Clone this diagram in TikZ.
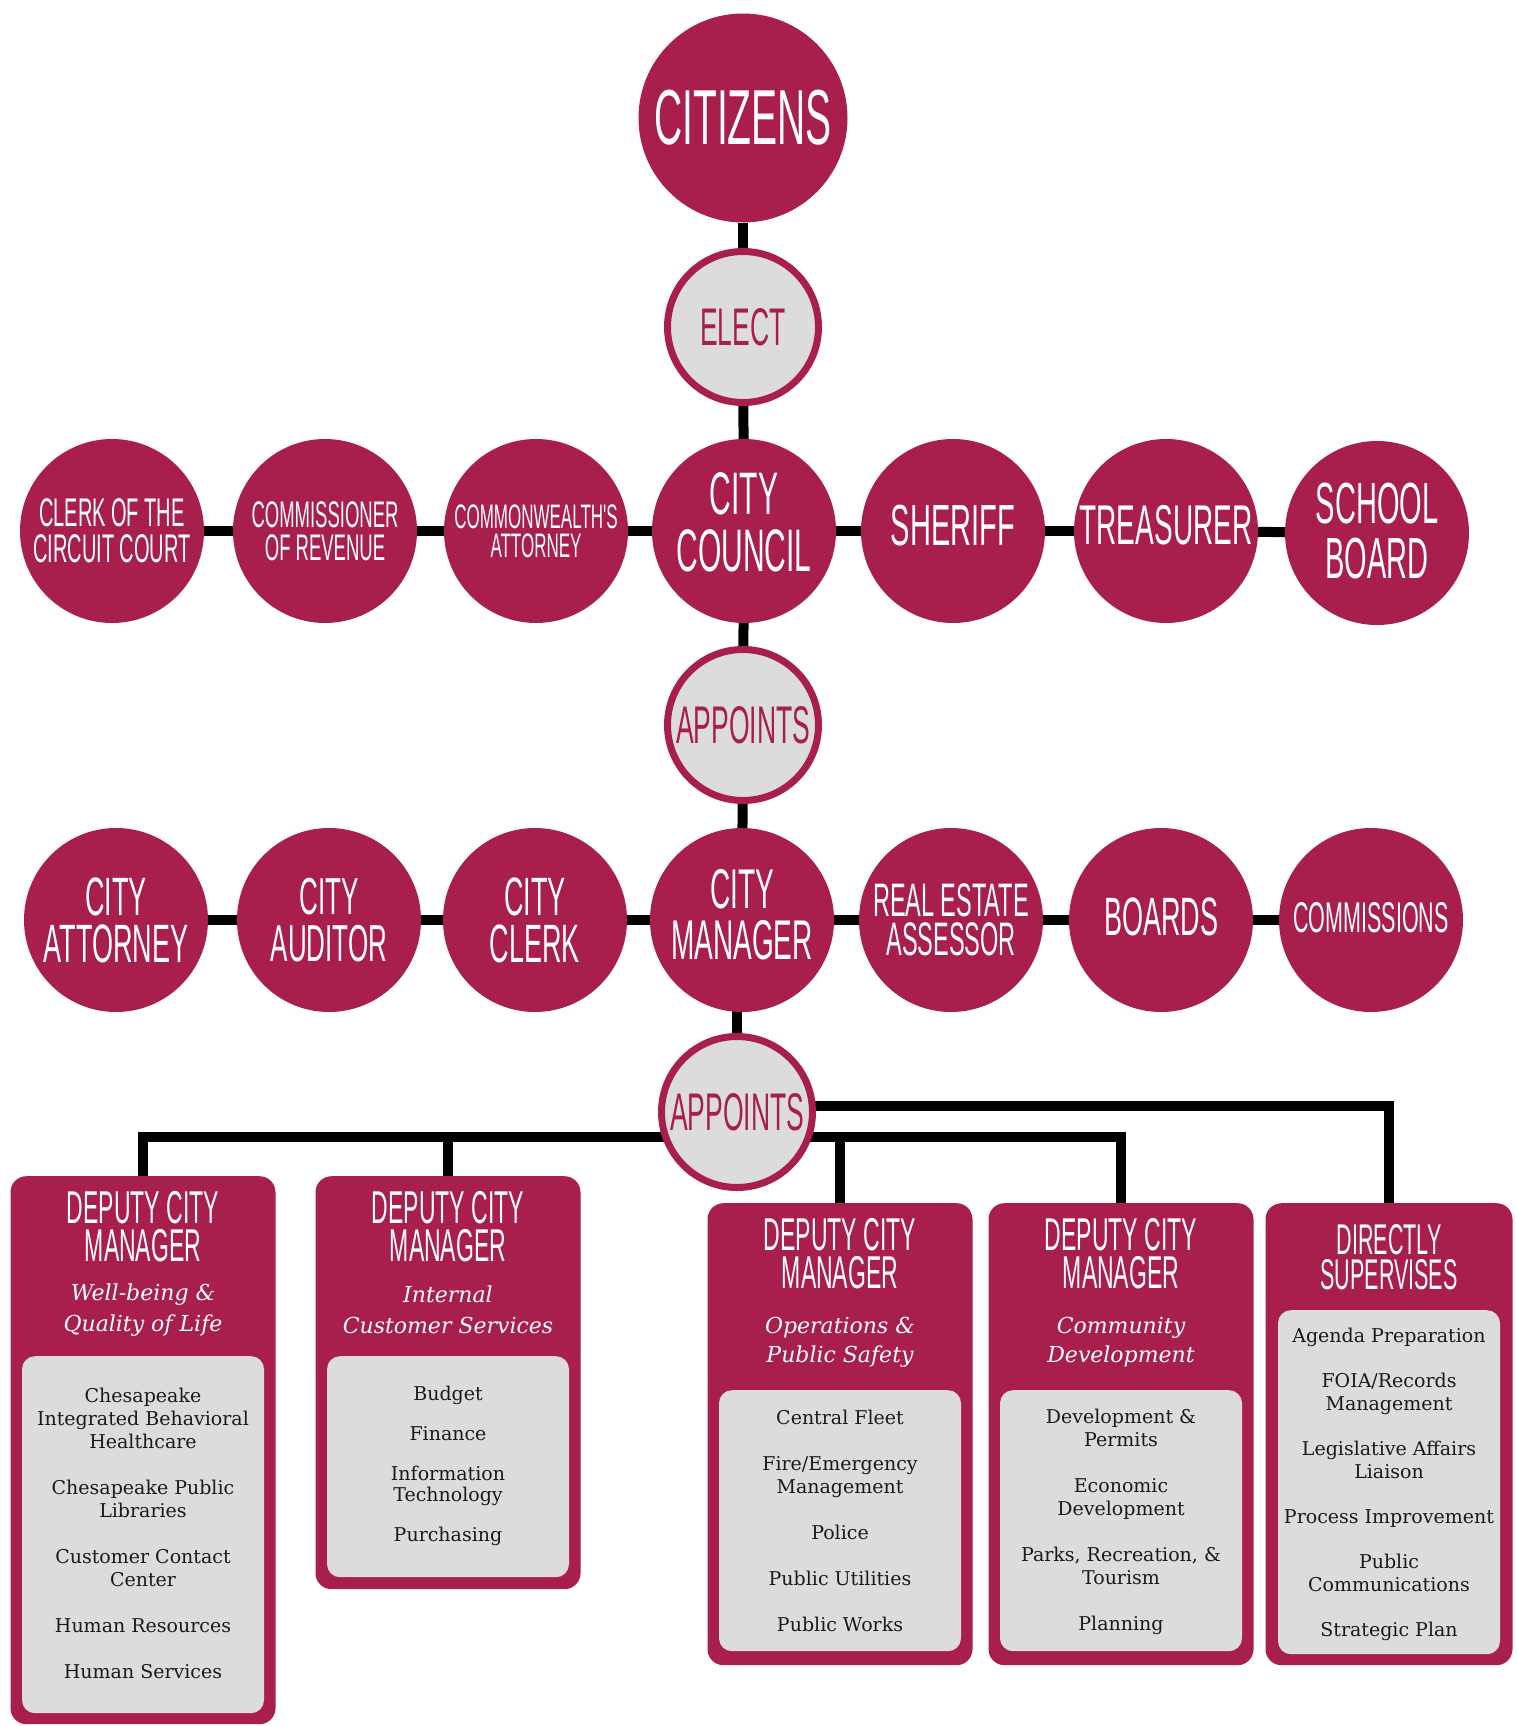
\documentclass[tikz,border=0pt]{standalone}
\usepackage{fontspec}
\setmainfont{DejaVu Serif}
\newfontfamily\headfont{Liberation Sans}[FakeStretch=0.5]
\usetikzlibrary{backgrounds}
\definecolor{cityred}{HTML}{A81E4C}
\definecolor{citygray}{HTML}{DCDCDC}
\definecolor{itemtext}{HTML}{1A1A1A}
\newcommand{\headsz}[2]{\headfont\fontsize{#1}{#2}\selectfont}
\newcommand{\itemsz}{\fontsize{19}{23}\selectfont}

\begin{document}
\begin{tikzpicture}[x=1pt, y=-1pt,
    bigdot/.style={circle, fill=cityred, text=white, inner sep=0pt, minimum size=184pt, align=center},
    verb/.style={circle, fill=citygray, draw=cityred, line width=7pt, inner sep=0pt, minimum size=151pt, text=cityred, font={\headsz{53}{53}}},
    link/.style={line width=10pt, black},
    panel/.style={anchor=north, fill=cityred, rounded corners=16pt, inner sep=0pt, minimum width=265pt},
    sheet/.style={anchor=north, fill=citygray, rounded corners=13pt, inner sep=0pt, minimum width=242pt},
    boxhead/.style={text=white, align=center, inner sep=0pt, font={\headsz{46}{38}}},
    boxsub/.style={text=white, align=center, inner sep=0pt, font={\fontsize{22}{31}\selectfont\itshape}},
    items/.style={text=itemtext, align=center, inner sep=0pt, font=\itemsz}]
  \useasboundingbox (0,0) rectangle (1517,1726);

  % 1. 顶部: 选民与选举
  \node[bigdot, minimum size=209pt, font={\headsz{78}{78}}] (citizens) at (743,118) {CITIZENS};
  \node[verb] (elect) at (743,327) {ELECT};

  % 2. 第一排: 民选官员
  \node[bigdot, font={\headsz{40}{36}}] (clerk) at (112,531) {CLERK OF THE\\CIRCUIT COURT};
  \node[bigdot, font={\headsz{37}{33}}] (revenue) at (325,531) {COMMISSIONER\\OF REVENUE};
  \node[bigdot, font={\headsz{34}{29}}] (cwattorney) at (536,531) {COMMONWEALTH'S\\ATTORNEY};
  \node[bigdot, font={\headsz{60}{57}}, text depth=18pt] (council) at (744,531) {CITY\\COUNCIL};
  \node[bigdot, font={\headsz{58}{58}}, text depth=12pt] (sheriff) at (953,531) {SHERIFF};
  \node[bigdot, font={\headsz{56}{56}}, text depth=12pt] (treasurer) at (1166,531) {TREASURER};
  \node[bigdot, font={\headsz{58}{55}}, text depth=5pt] (school) at (1377,533) {SCHOOL\\BOARD};

  \node[verb] (appoints) at (743,725) {APPOINTS};

  % 3. 第二排: 议会任命
  \node[bigdot, font={\headsz{54}{47}}] (attorney) at (116,920) {CITY\\ATTORNEY};
  \node[bigdot, font={\headsz{52}{47}}] (auditor) at (329,920) {CITY\\AUDITOR};
  \node[bigdot, font={\headsz{54}{47}}] (cityclerk) at (535,920) {CITY\\CLERK};
  \node[bigdot, font={\headsz{56}{51}}, text depth=11pt] (manager) at (742,920) {CITY\\MANAGER};
  \node[bigdot, font={\headsz{47}{39}}] (assessor) at (951,920) {REAL ESTATE\\ASSESSOR};
  \node[bigdot, font={\headsz{54}{54}}, text depth=6pt] (boards) at (1161,920) {BOARDS};
  \node[bigdot, font={\headsz{43}{43}}, text depth=6pt] (commissions) at (1371,920) {COMMISSIONS};

  \node[verb] (appointsb) at (737,1112) {APPOINTS};

  % 4. 底部: 副市政经理与直属部门
  \node[panel, minimum height=548pt] (wellbeing) at (143,1176) {};
  \node[sheet, minimum height=357pt] (wellbeingsheet) at (143,1356) {};
  \node[boxhead] (wellbeinghead) at (143,1227) {DEPUTY CITY\\MANAGER};
  \node[boxsub] (wellbeingsub) at (143,1310) {Well-being \&\\Quality of Life};
  \node[items] (wellbeingitems) at (143,1533) {Chesapeake\\Integrated Behavioral\\Healthcare\\[23pt]
    Chesapeake Public\\Libraries\\[23pt]Customer Contact\\Center\\[23pt]
    Human Resources\\[23pt]Human Services};

  \node[panel, minimum height=413pt] (internal) at (448,1176) {};
  \node[sheet, minimum height=221pt] (internalsheet) at (448,1356) {};
  \node[boxhead] (internalhead) at (448,1227) {DEPUTY CITY\\MANAGER};
  \node[boxsub] (internalsub) at (448,1310) {Internal\\Customer Services};
  \node[items] (internalitems) at (448,1466) {Budget\\[17pt]Finance\\[17pt]
    Information\\[-2pt]Technology\\[17pt]Purchasing};

  \node[panel, minimum height=462pt] (operations) at (840,1203) {};
  \node[sheet, minimum height=261pt] (operationssheet) at (840,1390) {};
  \node[boxhead] (operationshead) at (840,1254) {DEPUTY CITY\\MANAGER};
  \node[boxsub, font={\fontsize{22}{29}\selectfont\itshape}] (operationssub) at (840,1342) {Operations \&\\Public Safety};
  \node[items] (operationsitems) at (840,1521) {Central Fleet\\[23pt]Fire/Emergency\\Management\\[23pt]
    Police\\[23pt]Public Utilities\\[23pt]Public Works};

  \node[panel, minimum height=462pt] (community) at (1121,1203) {};
  \node[sheet, minimum height=261pt] (communitysheet) at (1121,1390) {};
  \node[boxhead] (communityhead) at (1121,1254) {DEPUTY CITY\\MANAGER};
  \node[boxsub, font={\fontsize{22}{29}\selectfont\itshape}] (communitysub) at (1121,1342) {Community\\Development};
  \node[items] (communityitems) at (1121,1522) {Development \&\\Permits\\[23pt]Economic\\Development\\[23pt]
    Parks, Recreation, \&\\Tourism\\[23pt]Planning};

  \node[panel, minimum width=247pt, minimum height=462pt] (direct) at (1389,1203) {};
  \node[sheet, minimum width=222pt, minimum height=344pt] (directsheet) at (1389,1310) {};
  \node[boxhead, font={\headsz{43}{35}}] (directhead) at (1389,1257) {DIRECTLY\\SUPERVISES};
  \node[items] (directitems) at (1389,1484) {Agenda Preparation\\[22pt]FOIA/Records\\Management\\[22pt]
    Legislative Affairs\\Liaison\\[22pt]Process Improvement\\[22pt]
    Public\\Communications\\[22pt]Strategic Plan};

  % 5. 连接线 (放在底层)
  \coordinate (lowbar) at (737,1137);
  \coordinate (highbar) at (737,1106);
  \begin{pgfonlayer}{background}
    \draw[link] (citizens) -- (elect);
    \draw[link] (elect) -- (council);
    \draw[link] (council) -- (appoints);
    \draw[link] (appoints) -- (manager);
    \draw[link] (appointsb) -- (appointsb |- manager);
    \draw[link] (clerk) -- (revenue);
    \draw[link] (revenue) -- (cwattorney);
    \draw[link] (cwattorney) -- (council);
    \draw[link] (council) -- (sheriff);
    \draw[link] (sheriff) -- (treasurer);
    \draw[link] (treasurer) -- (school);
    \draw[link] (attorney) -- (auditor);
    \draw[link] (auditor) -- (cityclerk);
    \draw[link] (cityclerk) -- (manager);
    \draw[link] (manager) -- (assessor);
    \draw[link] (assessor) -- (boards);
    \draw[link] (boards) -- (commissions);
    \draw[link] (wellbeing.north) |- (lowbar) -| (community.north);
    \draw[link] (internal.north) -- (internal.north |- lowbar);
    \draw[link] (operations.north) -- (operations.north |- lowbar);
    \draw[link] (highbar) -| (direct.north);
  \end{pgfonlayer}
\end{tikzpicture}
\end{document}
